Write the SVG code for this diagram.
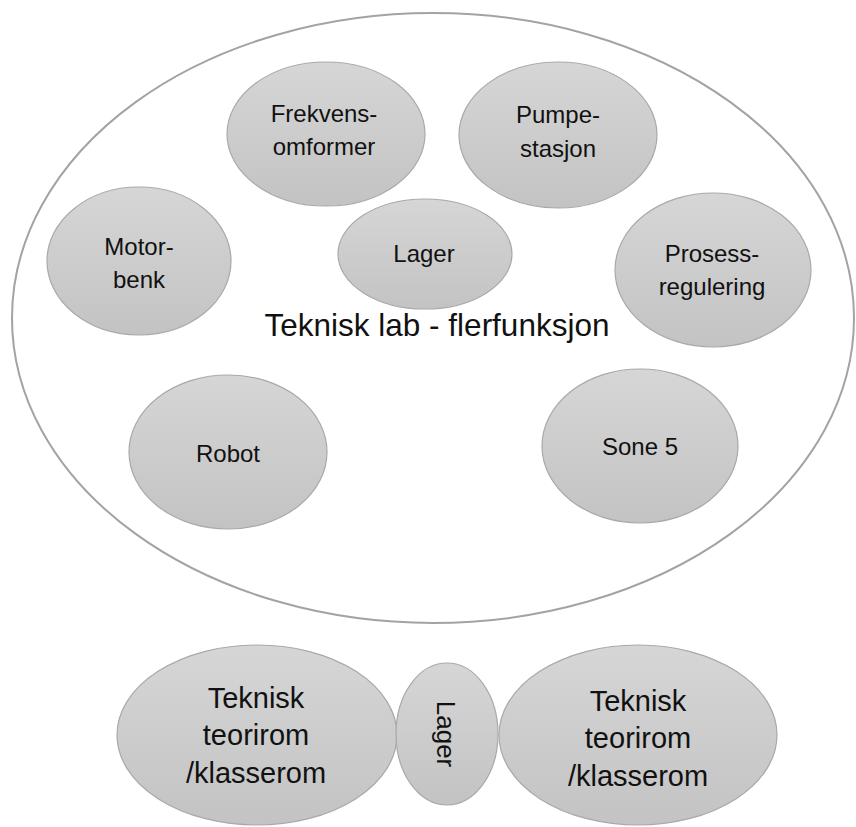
<svg xmlns="http://www.w3.org/2000/svg" width="856" height="827" viewBox="0 0 856 827">
<defs>
<linearGradient id="g" x1="0" y1="0" x2="0" y2="1">
<stop offset="0" stop-color="#d6d6d6"/>
<stop offset="1" stop-color="#c3c3c3"/>
</linearGradient>
</defs>
<style>
.n{fill:url(#g);stroke:#a9a9a9;stroke-width:1.2}
.t{font-family:"Liberation Sans",Arial,sans-serif;font-size:24px;fill:#111;text-anchor:middle}
.b{font-size:29px}
</style>
<rect width="856" height="827" fill="#fff"/>
<g id="lab">
<ellipse cx="433" cy="318" rx="421" ry="305" fill="#fff" stroke="#a3a3a3" stroke-width="2"/>
<text class="t" x="437" y="336" style="font-size:31.5px">Teknisk lab - flerfunksjon</text>
</g>
<g id="frekvens">
<ellipse class="n" cx="326" cy="134" rx="99" ry="72"/>
<text class="t" x="324" y="122">Frekvens-</text>
<text class="t" x="324" y="155">omformer</text>
</g>
<g id="pumpe">
<ellipse class="n" cx="558" cy="135" rx="99" ry="73"/>
<text class="t" x="558" y="123">Pumpe-</text>
<text class="t" x="558" y="157">stasjon</text>
</g>
<g id="motor">
<ellipse class="n" cx="139" cy="261" rx="92" ry="74"/>
<text class="t" x="139" y="255">Motor-</text>
<text class="t" x="139" y="288">benk</text>
</g>
<g id="lager1">
<ellipse class="n" cx="425" cy="254" rx="87" ry="55"/>
<text class="t" x="424" y="262">Lager</text>
</g>
<g id="prosess">
<ellipse class="n" cx="713" cy="270" rx="98" ry="77"/>
<text class="t" x="712" y="262">Prosess-</text>
<text class="t" x="712" y="295">regulering</text>
</g>
<g id="robot">
<ellipse class="n" cx="228" cy="452" rx="99" ry="77"/>
<text class="t" x="228" y="462">Robot</text>
</g>
<g id="sone5">
<ellipse class="n" cx="640" cy="446" rx="98" ry="77"/>
<text class="t" x="640" y="455">Sone 5</text>
</g>
<g id="teori1">
<ellipse class="n" cx="257" cy="735" rx="140" ry="90"/>
<text class="t b" x="256" y="708">Teknisk</text>
<text class="t b" x="256" y="745">teorirom</text>
<text class="t b" x="256" y="783">/klasserom</text>
</g>
<g id="lager2">
<ellipse class="n" cx="447" cy="734" rx="51" ry="71"/>
<text class="t" transform="translate(437,734) rotate(90)" x="0" y="0" style="font-size:26px">Lager</text>
</g>
<g id="teori2">
<ellipse class="n" cx="638" cy="735" rx="139" ry="90"/>
<text class="t b" x="638" y="711">Teknisk</text>
<text class="t b" x="638" y="748">teorirom</text>
<text class="t b" x="638" y="786">/klasserom</text>
</g>
<g id="connectors"/>
</svg>
